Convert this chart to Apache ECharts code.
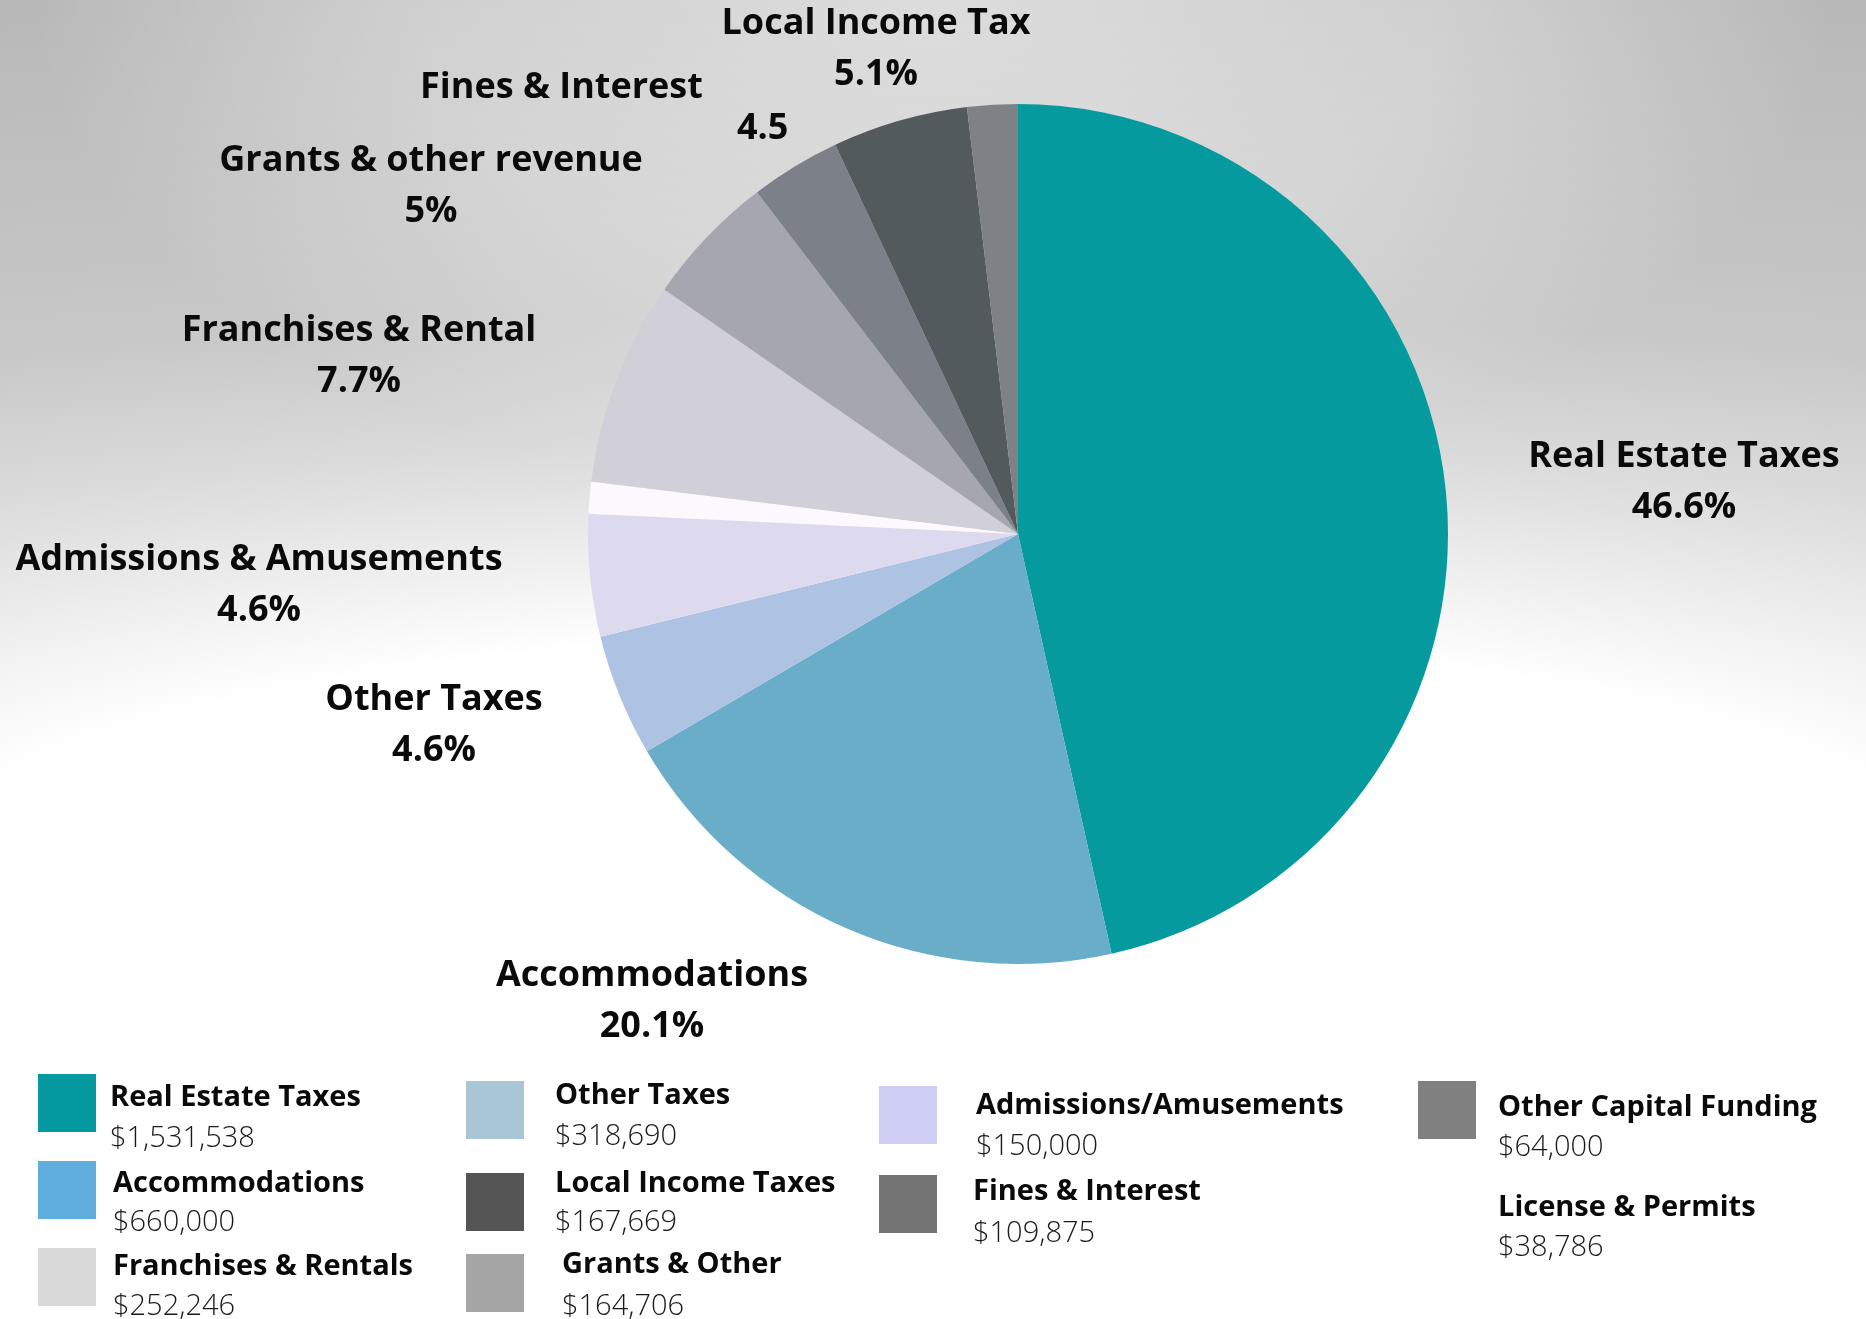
<!DOCTYPE html>
<html>
<head>
<meta charset="utf-8">
<script src="https://cdn.jsdelivr.net/npm/echarts@6/dist/echarts.min.js"></script>
<style>
html,body{margin:0;padding:0;}
body{width:1866px;height:1319px;overflow:hidden;background-color:#ffffff;
background-image:
  radial-gradient(ellipse 900px 500px at 933px 0px, rgba(255,255,255,0.5) 0%, rgba(255,255,255,0.32) 57%, rgba(255,255,255,0) 100%),
  radial-gradient(ellipse 3830px 900px at 933px 869px, #ffffff 0%, #ffffff 26%, #e4e4e4 42%, #dcdcdc 47%, #c8c8c8 62%, #b8b8b8 100%);
background-size: 1866px 1319px, 1866px 869px;
background-repeat: no-repeat, no-repeat;
background-position: 0 0, 0 0;}
#chart{width:1866px;height:1319px;}
</style>
</head>
<body>
<div id="chart"></div>
<script>
// ---- data ----
const sliceNames = ['Real Estate Taxes','Accommodations','Other Taxes','Admissions & Amusements','License & Permits','Franchises & Rental','Grants & other revenue','Fines & Interest','Local Income Tax','Other Capital Funding'];
const sliceShares = [46.6, 20.1, 4.6, 4.6, 1.2, 7.7, 5.0, 3.4, 5.1, 1.9];
const sliceLabels = ['46.6%','20.1%','4.6%','4.6%','','7.7%','5%','4.5','5.1%',''];
const sliceColors = ['#049a9e','#69adc9','#aec2e3','#dddaf0','#fdf8fd','#d1cfd7','#a5a6af','#7c8088','#535a5e','#7e8286'];

const legendNames = ['Real Estate Taxes','Accommodations','Franchises & Rentals','Other Taxes','Local Income Taxes','Grants & Other','Admissions/Amusements','Fines & Interest','Other Capital Funding','License & Permits'];
const legendValues = ['$1,531,538','$660,000','$252,246','$318,690','$167,669','$164,706','$150,000','$109,875','$64,000','$38,786'];
const legendColors = ['#03999e','#5eaddc','#d9d9d9','#a9c6d7','#555555','#a5a5a5','#cfcff5','#737373','#808080',null];

// ---- layout (positions only) ----
const labelPos = [
  [1684, 482, 'center'],
  [652, 1001, 'center'],
  [434, 725, 'center'],
  [259, 585, 'center'],
  null,
  [359, 356, 'center'],
  [431, 186, 'center'],
  [420, 103, 'left'],
  [876, 49, 'center'],
  null
];
const legendLayout = [
  [[38,1074], 110, 1098, 1139],
  [[38,1161], 113, 1184, 1223],
  [[38,1248], 113, 1267, 1307],
  [[466,1081], 555, 1096, 1137],
  [[466,1173], 555, 1184, 1223],
  [[466,1254], 562, 1265, 1307],
  [[879,1086], 976, 1106, 1147],
  [[879,1175], 973, 1192, 1234],
  [[1418,1081], 1498, 1108, 1148],
  [null, 1498, 1208, 1248]
];

const FONT = '"Open Sans", "Noto Sans", sans-serif';

const pieData = sliceNames.map((n, i) => {
  const d = { name: n, value: sliceShares[i], itemStyle: { color: sliceColors[i] } };
  if (!labelPos[i]) d.label = { show: false };
  return d;
});

const graphics = [];
legendNames.forEach((n, i) => {
  const L = legendLayout[i];
  if (L[0] && legendColors[i]) {
    graphics.push({ type: 'rect', left: L[0][0], top: L[0][1], shape: { width: 58, height: 58 }, style: { fill: legendColors[i] }, silent: true });
  }
  graphics.push({ type: 'text', x: L[1], y: L[2], style: { text: n, fill: '#0a0a0a', font: 'bold 29px ' + FONT, textAlign: 'left', textVerticalAlign: 'middle' }, silent: true });
  graphics.push({ type: 'text', x: L[1], y: L[3], style: { text: legendValues[i], fill: '#1a1a1a', font: '300 29px ' + FONT, textAlign: 'left', textVerticalAlign: 'middle' }, silent: true });
});

const chart = echarts.init(document.getElementById('chart'), null, { renderer: 'canvas' });
chart.setOption({
  backgroundColor: 'transparent',
  animation: false,
  series: [{
    type: 'pie',
    center: [1018, 534],
    radius: [0, 430],
    startAngle: 90,
    clockwise: true,
    avoidLabelOverlap: false,
    emphasis: { disabled: true },
    label: {
      show: true,
      position: 'outside',
      fontFamily: FONT,
      fontWeight: 'bold',
      fontSize: 36,
      color: '#0a0a0a',
      formatter: function (p) {
        const i = p.dataIndex;
        if (i === 7) return '{f|' + sliceNames[i] + '}\n{g|' + sliceLabels[i] + '}';
        return '{n|' + sliceNames[i] + '}\n{n|' + sliceLabels[i] + '}';
      },
      rich: {
        n: { fontFamily: FONT, fontWeight: 'bold', fontSize: 36, lineHeight: 51, color: '#0a0a0a' },
        f: { fontFamily: FONT, fontWeight: 'bold', fontSize: 36, lineHeight: 51, color: '#0a0a0a' },
        g: { fontFamily: FONT, fontWeight: 'bold', fontSize: 36, lineHeight: 31, color: '#0a0a0a', padding: [0, 0, 0, 317] }
      }
    },
    labelLine: { show: false },
    labelLayout: function (params) {
      const P = labelPos[params.dataIndex];
      if (!P) return {};
      return { x: P[0], y: P[1], align: P[2], verticalAlign: 'middle', hideOverlap: false };
    },
    data: pieData
  }],
  graphic: graphics
});
</script>
</body>
</html>
